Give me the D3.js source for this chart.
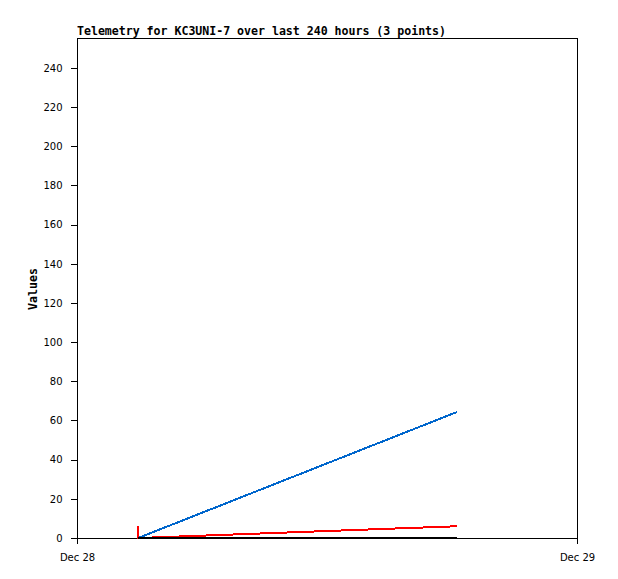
<!DOCTYPE html>
<html><head><meta charset="utf-8">
<script src="https://cdn.jsdelivr.net/npm/d3@7"></script>
<style>body{margin:0;background:#fff}</style>
</head><body>
<script>
const times = ["2024-12-28T02:56:00","2024-12-28T02:56:00","2024-12-28T18:14:00"];
const seriesBlue = [0, 0, 64.3];
const seriesRed = [6.2, 0, 6.0];
const seriesBlack = [0, 0, 0];
const yTicks = [0,20,40,60,80,100,120,140,160,180,200,220,240];
const xTicks = ["2024-12-28T00:00:00","2024-12-29T00:00:00"];
const title = "Telemetry for KC3UNI-7 over last 240 hours (3 points)";

const W=618,H=579, L=77,R=577,T=38,B=538;
const svg=d3.select("body").append("svg").attr("width",W).attr("height",H);
svg.append("rect").attr("width",W).attr("height",H).attr("fill","#fff");
const parse=d3.isoParse;
const x=d3.scaleTime().domain([parse(xTicks[0]),parse(xTicks[1])]).range([L,R]);
const y=d3.scaleLinear().domain([0,255.3]).range([B,T]);

svg.append("rect").attr("x",L+0.5).attr("y",T+0.5).attr("width",R-L).attr("height",B-T)
  .attr("fill","none").attr("stroke","#000").attr("shape-rendering","crispEdges");

const ya=svg.append("g").attr("transform",`translate(${L+0.5},0)`)
  .call(d3.axisLeft(y).tickValues(yTicks).tickSize(7).tickPadding(8).tickFormat(d3.format("d")));
const xa=svg.append("g").attr("transform",`translate(0,${B+0.5})`)
  .call(d3.axisBottom(x).tickValues(xTicks.map(parse)).tickSize(5).tickPadding(10).tickFormat(d3.timeFormat("%b %d")));
[ya,xa].forEach(g=>{
  g.select(".domain").remove();
  g.selectAll("line").attr("stroke","#000").attr("shape-rendering","crispEdges");
  g.selectAll("text").attr("font-family","DejaVu Sans").attr("font-size","10px").attr("fill","#000");
});

const pts=times.map(parse);
const line=d3.line().x((d,i)=>x(pts[i])).y(d=>y(d));
[[seriesBlue,"#0066cc"],[seriesRed,"#ff0000"],[seriesBlack,"#000"]].forEach(([s,c])=>{
  svg.append("path").datum(s).attr("d",line).attr("fill","none").attr("stroke",c)
    .attr("stroke-width",2).attr("shape-rendering","crispEdges");
});

svg.append("text").attr("x",L).attr("y",35).attr("font-family","DejaVu Sans Mono")
  .attr("font-weight","bold").attr("font-size","11.6px").attr("textLength",369).text(title);
svg.append("text").attr("transform","translate(37,289) rotate(-90)").attr("text-anchor","middle")
  .attr("font-family","DejaVu Sans Mono").attr("font-weight","bold").attr("font-size","11.6px").text("Values");
</script>
</body></html>
